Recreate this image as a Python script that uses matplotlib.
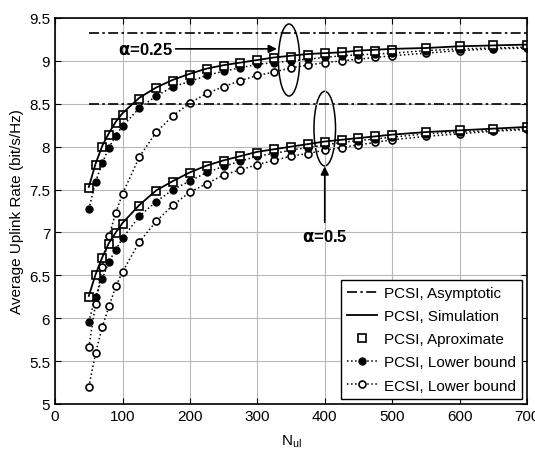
import matplotlib
matplotlib.use("Agg")
import matplotlib.pyplot as plt
from matplotlib.patches import Ellipse

plt.rcParams['font.family'] = ['Liberation Sans', 'DejaVu Sans']
plt.rcParams['mathtext.fontset'] = 'custom'
plt.rcParams['mathtext.rm'] = 'Liberation Sans'

# numero di antenne
n_ul = [50, 60, 70, 80, 90, 100, 125, 150, 175, 200, 225, 250, 275, 300, 325,
        350, 375, 400, 425, 450, 475, 500, 550, 600, 650, 700]

# alpha = 0.25
asym_025 = 9.33
sim_025 = [7.53, 7.80, 8.01, 8.16, 8.29, 8.39, 8.57, 8.69, 8.78, 8.85, 8.91, 8.95, 8.98,
           9.01, 9.04, 9.06, 9.08, 9.09, 9.10, 9.12, 9.13, 9.14, 9.15, 9.17, 9.18, 9.19]
approx_025 = [7.52, 7.79, 8.00, 8.14, 8.28, 8.37, 8.56, 8.68, 8.77, 8.83, 8.90, 8.94, 8.97,
              9.01, 9.03, 9.05, 9.07, 9.09, 9.10, 9.11, 9.12, 9.13, 9.15, 9.17, 9.18, 9.19]
pcsi_lb_025 = [7.27, 7.59, 7.81, 7.99, 8.13, 8.24, 8.45, 8.59, 8.70, 8.76, 8.83, 8.88, 8.92,
               8.96, 8.98, 9.00, 9.02, 9.04, 9.06, 9.07, 9.08, 9.09, 9.12, 9.14, 9.15, 9.16]
ecsi_lb_025 = [5.66, 6.17, 6.60, 6.96, 7.23, 7.45, 7.88, 8.17, 8.36, 8.51, 8.62, 8.70, 8.77,
               8.83, 8.87, 8.92, 8.95, 8.98, 9.00, 9.02, 9.04, 9.06, 9.09, 9.12, 9.14, 9.15]

# alpha = 0.5
asym_05 = 8.50
sim_05 = [6.26, 6.51, 6.71, 6.88, 7.00, 7.11, 7.32, 7.49, 7.60, 7.70, 7.78, 7.84, 7.89,
          7.94, 7.97, 8.00, 8.03, 8.06, 8.08, 8.10, 8.12, 8.14, 8.17, 8.19, 8.21, 8.23]
approx_05 = [6.25, 6.50, 6.70, 6.87, 6.99, 7.10, 7.31, 7.48, 7.59, 7.69, 7.77, 7.83, 7.89,
             7.93, 7.97, 8.00, 8.03, 8.06, 8.08, 8.10, 8.12, 8.14, 8.17, 8.19, 8.21, 8.23]
pcsi_lb_05 = [5.96, 6.25, 6.46, 6.66, 6.80, 6.93, 7.19, 7.36, 7.50, 7.60, 7.70, 7.77, 7.83,
              7.89, 7.92, 7.96, 7.99, 8.02, 8.05, 8.07, 8.09, 8.11, 8.15, 8.17, 8.19, 8.21]
ecsi_lb_05 = [5.20, 5.59, 5.90, 6.14, 6.37, 6.54, 6.89, 7.13, 7.32, 7.47, 7.57, 7.67, 7.73,
              7.79, 7.84, 7.89, 7.92, 7.96, 7.99, 8.02, 8.05, 8.08, 8.12, 8.15, 8.18, 8.20]

fig = plt.figure(figsize=(5.35, 4.52), dpi=100)
ax = fig.add_axes([0.103, 0.104, 0.882, 0.854])

dashdot = (0, (6, 2, 1.5, 2))
for asym, sim, appr, plb, elb in [(asym_025, sim_025, approx_025, pcsi_lb_025, ecsi_lb_025),
                                  (asym_05, sim_05, approx_05, pcsi_lb_05, ecsi_lb_05)]:
    ax.plot([n_ul[0], n_ul[-1]], [asym, asym], color='k', linestyle=dashdot, lw=1.2,
            label="PCSI, Asymptotic")
    ax.plot(n_ul, elb, color='k', linestyle=':', lw=1.1, marker='o', ms=5,
            mfc='white', mew=1.2, label="ECSI, Lower bound")
    ax.plot(n_ul, plb, color='k', linestyle=':', lw=1.1, marker='o', ms=5,
            mfc='k', label="PCSI, Lower bound")
    ax.plot(n_ul, appr, color='k', linestyle='none', marker='s', ms=6,
            mfc='white', mew=1.2, label="PCSI, Aproximate")
    ax.plot(n_ul, sim, color='k', linestyle='-', lw=1.3, label="PCSI, Simulation")

# annotazioni
ax.add_patch(Ellipse((347, 9.01), 31.5, 0.84, fill=False, color='k', lw=1.1))
ax.add_patch(Ellipse((400, 8.21), 32, 0.87, fill=False, color='k', lw=1.1))
ax.annotate(r'$\mathbf{\alpha}$=0.25', xy=(329, 9.14), xytext=(93, 9.14), va='center',
            fontsize=12, fontweight='bold',
            arrowprops=dict(arrowstyle='-|>', color='k', lw=1.2, shrinkA=0, shrinkB=0))
ax.annotate(r'$\mathbf{\alpha}$=0.5', xy=(400, 7.77), xytext=(400, 6.96), ha='center',
            va='center', fontsize=12, fontweight='bold',
            arrowprops=dict(arrowstyle='-|>', color='k', lw=1.2, shrinkA=2, shrinkB=0))

ax.set_xlim(0, 700)
ax.set_ylim(5, 9.5)
ax.set_xticks(range(0, 701, 100))
ax.set_yticks([5, 5.5, 6, 6.5, 7, 7.5, 8, 8.5, 9, 9.5])
ax.set_yticklabels(['5', '5.5', '6', '6.5', '7', '7.5', '8', '8.5', '9', '9.5'])
ax.tick_params(direction='in', top=True, right=True, labelsize=11, length=4)
ax.grid(True, color='0.72', lw=0.8)
for s in ax.spines.values():
    s.set_linewidth(1.2)
ax.set_xlabel(r'N$_{\mathrm{ul}}$', fontsize=11, labelpad=7)
ax.set_ylabel('Average Uplink Rate (bit/s/Hz)', fontsize=11)

h, l = ax.get_legend_handles_labels()
order = [0, 4, 3, 2, 1]
leg = ax.legend([h[i] for i in order], [l[i] for i in order], loc='lower right',
                fontsize=11, fancybox=False, edgecolor='k', framealpha=1,
                handlelength=2.0, borderaxespad=0.35, labelspacing=0.6,
                borderpad=0.4, handletextpad=0.4)
leg.get_frame().set_linewidth(1.0)

plt.savefig('out.png', dpi=100)
